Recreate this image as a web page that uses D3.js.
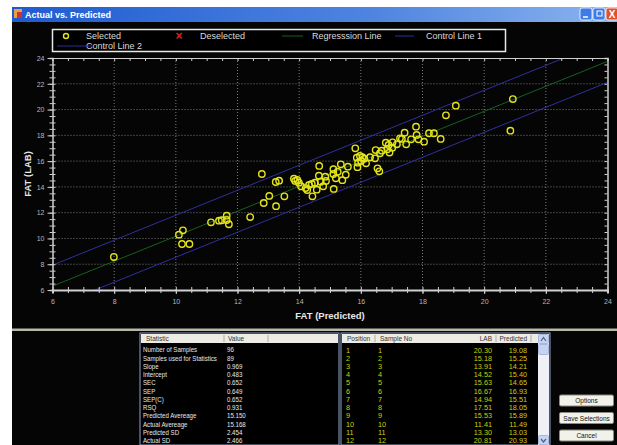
<!DOCTYPE html>
<html>
<head>
<meta charset="utf-8">
<script src="https://cdn.jsdelivr.net/npm/d3@7"></script>
<style>
  body { margin: 0; background: #fff; }
  svg { display: block; font-family: Arial, "Liberation Sans", sans-serif; }
</style>
</head>
<body>
<svg></svg>
<script>
const width = 617;
const height = 445;

// scatter data: predicted (x) and lab (y)
const predicted = [7.99, 10.10, 10.23, 10.20, 10.44, 11.14, 11.40, 11.49, 11.65, 11.65, 11.72, 12.41,
  12.79, 12.85, 13.03, 13.25, 13.24, 13.35, 13.52, 13.83, 13.87, 13.94, 13.99, 14.06, 14.21, 14.26,
  14.32, 14.41, 14.43, 14.51, 14.57, 14.65, 14.64, 14.70, 14.78, 14.85, 14.87, 15.11, 15.11, 15.12,
  15.19, 15.25, 15.35, 15.40, 15.51, 15.58, 15.82, 15.87, 15.91, 15.89, 15.97, 16.01, 16.05, 16.11,
  16.17, 16.30, 16.46, 16.48, 16.54, 16.60, 16.62, 16.68, 16.81, 16.86, 16.90, 16.93, 17.02, 17.03,
  17.17, 17.27, 17.33, 17.42, 17.47, 17.63, 17.79, 17.81, 17.87, 18.05, 18.21, 18.37, 18.59, 18.76,
  19.08, 20.93, 20.85];
const lab = [8.56, 10.29, 10.63, 9.57, 9.57, 11.25, 11.38, 11.41, 11.77, 11.43, 11.10, 11.66,
  15.00, 12.75, 13.30, 12.50, 14.38, 14.48, 13.27, 14.64, 14.46, 14.54, 14.33, 14.05, 13.91, 13.76,
  14.15, 14.23, 13.27, 14.33, 13.78, 15.63, 14.87, 14.40, 14.05, 14.79, 14.46, 15.37, 15.00, 13.84,
  14.67, 15.18, 15.75, 14.52, 14.94, 15.57, 16.99, 16.27, 15.88, 15.53, 16.40, 16.01, 16.30, 16.19,
  15.83, 16.30, 16.22, 16.86, 15.44, 15.21, 16.61, 16.81, 17.43, 16.92, 17.25, 16.67, 17.04, 17.46,
  17.30, 17.77, 17.72, 18.20, 17.30, 17.69, 18.67, 18.03, 17.69, 17.51, 18.16, 18.16, 17.72, 19.55,
  20.30, 20.81, 18.36];

const slope = 0.969;
const intercept = 0.483;
const controlOffset = 1.63;

const tickLabels = [6, 8, 10, 12, 14, 16, 18, 20, 22, 24];

const statNames = ["Number of Samples", "Samples used for Statistics", "Slope", "Intercept", "SEC", "SEP",
  "SEP(C)", "RSQ", "Predicted Avereage", "Actual Avereage", "Predicted SD", "Actual SD"];
const statValues = ["96", "89", "0.969", "0.483", "0.652", "0.649", "0.652", "0.931", "15.150", "15.168",
  "2.454", "2.466"];

const positions = [1, 2, 3, 4, 5, 6, 7, 8, 9, 10, 11, 12];
const sampleNos = [1, 2, 3, 4, 5, 6, 7, 8, 9, 10, 11, 12];
const sampleLab = ["20.30", "15.18", "13.91", "14.52", "15.63", "16.67", "14.94", "17.51", "15.53", "11.41", "13.30", "20.81"];
const samplePred = ["19.08", "15.25", "14.21", "15.40", "14.65", "16.93", "15.51", "18.05", "15.89", "11.49", "13.03", "20.93"];

const colors = {
  point: "#e4e41a",
  regression: "#17601f",
  control: "#2f2fa0",
  axis: "#d0d0d0",
  grid: "#9a9a9a",
  text: "#dadada"
};

const svg = d3.select("svg").attr("width", width).attr("height", height);

// window frame
svg.append("rect").attr("x", 12).attr("y", 7).attr("width", width - 12).attr("height", height - 7).attr("fill", "#050505");

const grad = svg.append("defs").append("linearGradient").attr("id", "tbar");
grad.append("stop").attr("offset", "0%").attr("stop-color", "#1f5bd0");
grad.append("stop").attr("offset", "60%").attr("stop-color", "#4f85e0");
grad.append("stop").attr("offset", "100%").attr("stop-color", "#8cb4ee");
svg.append("rect").attr("x", 12).attr("y", 7).attr("width", width - 12).attr("height", 15).attr("fill", "url(#tbar)");
svg.append("rect").attr("x", 14).attr("y", 9).attr("width", 8).attr("height", 9).attr("fill", "#e8a040");
svg.append("rect").attr("x", 17).attr("y", 12).attr("width", 5).attr("height", 6).attr("fill", "#d03030");
svg.append("text").attr("x", 25).attr("y", 18).attr("fill", "#fff").style("font-size", "9px").style("font-weight", "bold")
  .text("Actual vs. Predicted");

const btnX = [580, 593];
btnX.forEach(bx => {
  svg.append("rect").attr("x", bx).attr("y", 8).attr("width", 12).attr("height", 12).attr("rx", 2)
    .attr("fill", "#3d7be6").attr("stroke", "#fff").attr("stroke-width", 0.8);
});
svg.append("line").attr("x1", 583).attr("x2", 588).attr("y1", 17).attr("y2", 17).attr("stroke", "#fff").attr("stroke-width", 1.5);
svg.append("rect").attr("x", 597).attr("y", 11).attr("width", 5).attr("height", 5).attr("fill", "none").attr("stroke", "#fff");
svg.append("rect").attr("x", 606).attr("y", 8).attr("width", 12).attr("height", 12).attr("rx", 2)
  .attr("fill", "#e0502a").attr("stroke", "#fff").attr("stroke-width", 0.8);
svg.append("text").attr("x", 612).attr("y", 18).attr("text-anchor", "middle").attr("fill", "#fff")
  .style("font-size", "10px").style("font-weight", "bold").text("X");

// scales
const x = d3.scaleLinear().domain([6, 24]).range([52.5, 607.5]);
const y = d3.scaleLinear().domain([6, 24]).range([290, 58]);
const minor = d3.range(6, 24.01, 0.5);

// grid
const plot = svg.append("g");
plot.selectAll(".gx").data(tickLabels.slice(1, -1)).join("line")
  .attr("x1", d => x(d)).attr("x2", d => x(d)).attr("y1", y(24)).attr("y2", y(6))
  .attr("stroke", colors.grid).attr("stroke-width", 0.8).attr("stroke-dasharray", "1,2");
plot.selectAll(".gy").data(tickLabels.slice(1, -1)).join("line")
  .attr("y1", d => y(d)).attr("y2", d => y(d)).attr("x1", x(6)).attr("x2", x(24))
  .attr("stroke", colors.grid).attr("stroke-width", 0.8).attr("stroke-dasharray", "1,2");

// regression + control lines
svg.append("clipPath").attr("id", "clip").append("rect")
  .attr("x", x(6)).attr("y", y(24)).attr("width", x(24) - x(6)).attr("height", y(6) - y(24));
const lines = [
  { off: 0, color: colors.regression },
  { off: controlOffset, color: colors.control },
  { off: -controlOffset, color: colors.control }
];
plot.append("g").attr("clip-path", "url(#clip)").selectAll("line").data(lines).join("line")
  .attr("x1", x(4)).attr("x2", x(26))
  .attr("y1", d => y(slope * 4 + intercept + d.off)).attr("y2", d => y(slope * 26 + intercept + d.off))
  .attr("stroke", d => d.color).attr("stroke-width", 1);

// axes
function styleAxis(g) {
  g.select(".domain").attr("stroke", colors.axis);
  g.selectAll(".tick line").attr("stroke", colors.axis);
  g.selectAll(".tick text").attr("fill", "#b8b8b8").style("font-size", "7px").style("font-family", "Arial, sans-serif");
}
const bottomY = y(6);
svg.append("g").attr("transform", `translate(0,${bottomY})`)
  .call(d3.axisBottom(x).tickValues(minor).tickSize(3).tickFormat(""))
  .call(styleAxis).call(g => g.select(".domain").attr("stroke-width", 2));
svg.append("g").attr("transform", `translate(0,${bottomY})`)
  .call(d3.axisTop(x).tickValues(minor).tickSize(3).tickFormat(""))
  .call(styleAxis).call(g => g.select(".domain").remove());
svg.append("g").attr("transform", `translate(0,${bottomY})`)
  .call(d3.axisBottom(x).tickValues(tickLabels).tickSize(4).tickPadding(5).tickFormat(d3.format("d")))
  .call(styleAxis).call(g => g.select(".domain").remove());

svg.append("g").attr("transform", `translate(${x(6)},0)`)
  .call(d3.axisLeft(y).tickValues(minor).tickSize(3).tickFormat(""))
  .call(styleAxis).call(g => g.select(".domain").attr("stroke-width", 1.5));
svg.append("g").attr("transform", `translate(${x(6)},0)`)
  .call(d3.axisRight(y).tickValues(minor).tickSize(3).tickFormat(""))
  .call(styleAxis).call(g => g.select(".domain").remove());
svg.append("g").attr("transform", `translate(${x(6)},0)`)
  .call(d3.axisLeft(y).tickValues(tickLabels).tickSize(5).tickPadding(3).tickFormat(d3.format("d")))
  .call(styleAxis).call(g => g.select(".domain").remove());

svg.append("g").attr("transform", `translate(0,${y(24)})`)
  .call(d3.axisBottom(x).tickValues(minor).tickSize(3).tickFormat(""))
  .call(styleAxis);
svg.append("g").attr("transform", `translate(${x(24)},0)`)
  .call(d3.axisLeft(y).tickValues(minor).tickSize(3).tickFormat(""))
  .call(styleAxis).call(g => g.select(".domain").attr("stroke-width", 1.5));

// points
svg.append("g").selectAll("circle").data(predicted).join("circle")
  .attr("cx", d => x(d)).attr("cy", (d, i) => y(lab[i])).attr("r", 3.2)
  .attr("fill", "none").attr("stroke", colors.point).attr("stroke-width", 1.4);

// axis titles
svg.append("text").attr("x", 330).attr("y", 319).attr("text-anchor", "middle").attr("fill", "#e8e8e8")
  .style("font-size", "9.5px").style("font-weight", "bold").text("FAT (Predicted)");
svg.append("text").attr("transform", "translate(31,174) rotate(-90)").attr("text-anchor", "middle").attr("fill", "#e8e8e8")
  .style("font-size", "9.5px").style("font-weight", "bold").text("FAT (LAB)");

// legend
const lg = svg.append("g");
lg.append("rect").attr("x", 52.5).attr("y", 29.5).attr("width", 453).attr("height", 22).attr("fill", "#000")
  .attr("stroke", "#e8e8e8").attr("stroke-width", 1.5);
const legendText = [
  { t: "Selected", x: 86, y: 39 }, { t: "Deselected", x: 200, y: 39 },
  { t: "Regresssion Line", x: 312, y: 39 }, { t: "Control Line 1", x: 426, y: 39 },
  { t: "Control Line 2", x: 86, y: 49 }
];
lg.selectAll("text").data(legendText).join("text").attr("x", d => d.x).attr("y", d => d.y)
  .attr("fill", colors.text).style("font-size", "9px").text(d => d.t);
lg.append("circle").attr("cx", 66).attr("cy", 36).attr("r", 2.5).attr("fill", "none").attr("stroke", colors.point).attr("stroke-width", 1.4);
lg.append("text").attr("x", 179).attr("y", 40).attr("text-anchor", "middle").attr("fill", "#e02020")
  .style("font-size", "12px").style("font-weight", "bold").text("×");
const legendLines = [
  { x1: 282, x2: 303, y: 36, c: colors.regression },
  { x1: 395, x2: 414, y: 36, c: colors.control },
  { x1: 57, x2: 93, y: 46, c: colors.control }
];
lg.selectAll("line").data(legendLines).join("line").attr("x1", d => d.x1).attr("x2", d => d.x2)
  .attr("y1", d => d.y).attr("y2", d => d.y).attr("stroke", d => d.c).attr("stroke-width", 1);

// bottom panel
svg.append("rect").attr("x", 12).attr("y", 328.5).attr("width", width - 12).attr("height", 2.5).attr("fill", "#b8b8a8");

const rowY = d3.scaleLinear().domain([0, 11]).range([352.5, 443]);

function header(x0, x1, cols, divs) {
  const hg = svg.append("g");
  hg.append("rect").attr("x", x0).attr("y", 333).attr("width", x1 - x0).attr("height", height - 333)
    .attr("fill", "#000").attr("stroke", "#8fa4c8").attr("stroke-width", 1);
  hg.append("rect").attr("x", x0 + 1).attr("y", 334).attr("width", x1 - x0 - 2).attr("height", 9).attr("fill", "#ecebe4");
  hg.selectAll("line").data(divs).join("line").attr("x1", d => d).attr("x2", d => d).attr("y1", 335).attr("y2", 342)
    .attr("stroke", "#b0ada0");
  hg.selectAll("text").data(cols).join("text").attr("x", d => d.x).attr("y", 341)
    .attr("text-anchor", d => d.a || "start").attr("fill", "#333").style("font-size", "6.5px").text(d => d.t);
}

header(140, 339, [{ t: "Statistic", x: 146 }, { t: "Value", x: 228 }], [224, 268]);
// narrow text like the original dialog font
const statG = svg.append("g").attr("transform", "translate(143,0) scale(0.84,1)")
  .style("font-size", "7.3px").attr("fill", "#e8e8e8");
statG.selectAll(".n").data(statNames).join("text").attr("x", 0).attr("y", (d, i) => rowY(i)).text(d => d);
statG.selectAll(".v").data(statValues).join("text").attr("x", (227 - 143) / 0.84).attr("y", (d, i) => rowY(i)).text(d => d);

header(341, 550, [{ t: "Position", x: 347 }, { t: "Sample No", x: 380 }, { t: "LAB", x: 492, a: "end" }, { t: "Predicted", x: 527, a: "end" }],
  [375, 496, 531]);
const yellow = "#cccc10";
const posG = svg.append("g").style("font-size", "7.3px").attr("fill", yellow);
posG.selectAll(".p").data(positions).join("text").attr("x", 346).attr("y", (d, i) => rowY(i)).text(d => d);
posG.selectAll(".s").data(sampleNos).join("text").attr("x", 378).attr("y", (d, i) => rowY(i)).text(d => d);
posG.selectAll(".l").data(sampleLab).join("text").attr("x", 492).attr("y", (d, i) => rowY(i)).attr("text-anchor", "end").text(d => d);
posG.selectAll(".r").data(samplePred).join("text").attr("x", 527).attr("y", (d, i) => rowY(i)).attr("text-anchor", "end").text(d => d);

// scrollbar
svg.append("rect").attr("x", 538).attr("y", 334).attr("width", 11).attr("height", 111).attr("fill", "#eef0f6");
svg.append("rect").attr("x", 538.5).attr("y", 334.5).attr("width", 10).attr("height", 9).attr("fill", "#c4d3f2").attr("stroke", "#a8b8dc").attr("rx", 1);
svg.append("rect").attr("x", 538.5).attr("y", 344.5).attr("width", 10).attr("height", 10).attr("fill", "#c4d3f2").attr("stroke", "#a8b8dc").attr("rx", 1);
svg.append("rect").attr("x", 538.5).attr("y", 435.5).attr("width", 10).attr("height", 9).attr("fill", "#c4d3f2").attr("stroke", "#a8b8dc").attr("rx", 1);
svg.append("path").attr("d", "M541,341 L543.5,337.5 L546,341").attr("fill", "none").attr("stroke", "#4d6185").attr("stroke-width", 1.2);
svg.append("path").attr("d", "M541,439 L543.5,442 L546,439").attr("fill", "none").attr("stroke", "#4d6185").attr("stroke-width", 1.2);

// buttons
const buttons = ["Options", "Save Selections", "Cancel"];
const btnY = [395, 412.5, 430];
const bg = svg.append("g").selectAll("g").data(buttons).join("g")
  .attr("transform", (d, i) => `translate(559.5,${btnY[i]})`);
bg.append("rect").attr("width", 54).attr("height", 11).attr("rx", 1.5).attr("fill", "#f2f1ea")
  .attr("stroke", "#8a8a80").attr("stroke-width", 1);
bg.append("text").attr("x", 27).attr("y", 8.3).attr("text-anchor", "middle").attr("fill", "#111")
  .style("font-size", "6.5px").text(d => d);
</script>
</body>
</html>
